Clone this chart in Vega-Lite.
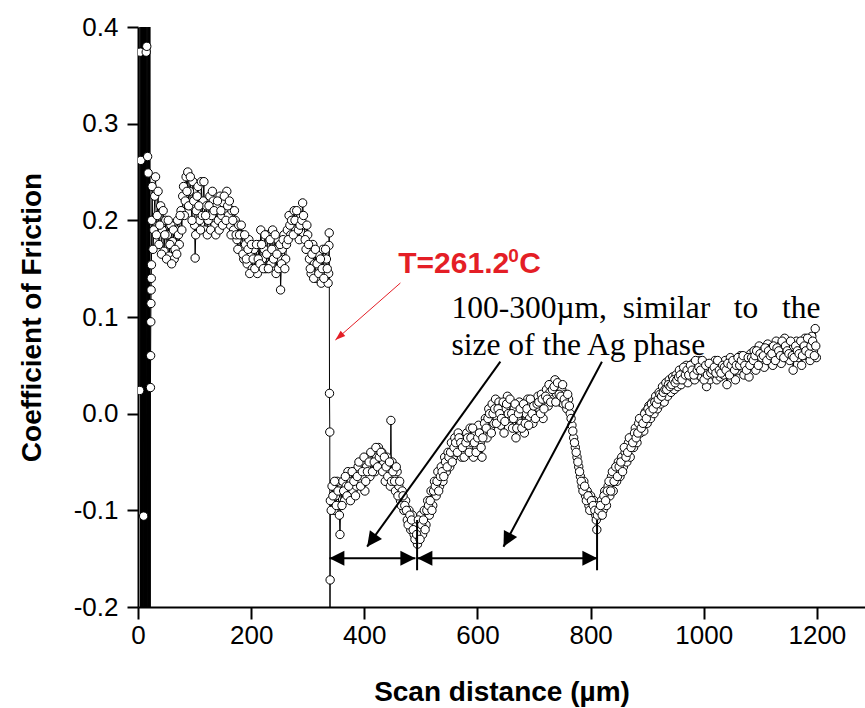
{
  "$schema": "https://vega.github.io/schema/vega-lite/v6.json",
  "autosize": {"type": "none"},
  "width": 727,
  "height": 580,
  "padding": {"left": 138, "top": 27, "right": 0, "bottom": 101},
  "background": "white",
  "config": {"view": {"stroke": null}},
  "datasets": {
    "main": [
      {"x":3,"y":0.024},{"x":3.5,"y":0.6},{"x":4,"y":0.374},{"x":4.5,"y":-0.4},{"x":5,"y":0.262},{"x":5.5,"y":0.6},{"x":6,"y":-0.4},{"x":6.5,"y":0.6},{"x":7,"y":-0.4},{"x":7.5,"y":0.6},{"x":8,"y":-0.4},{"x":8.5,"y":0.6},{"x":9,"y":-0.4},{"x":9.5,"y":0.6},{"x":10,"y":-0.106},{"x":10.5,"y":-0.4},{"x":11,"y":0.6},{"x":11.5,"y":-0.4},{"x":12,"y":0.6},{"x":12.5,"y":-0.4},{"x":13,"y":0.6},{"x":13.5,"y":-0.4},{"x":14,"y":0.6},{"x":14.5,"y":0.374},{"x":15,"y":-0.4},{"x":15.5,"y":0.38},{"x":16,"y":0.6},{"x":16.5,"y":-0.4},{"x":17,"y":0.266},{"x":17.5,"y":0.6},{"x":18,"y":0.249},{"x":18.5,"y":-0.4},{"x":19,"y":0.6},{"x":19.5,"y":-0.4},{"x":20,"y":0.6},{"x":20.5,"y":-0.4},{"x":21,"y":0.6},{"x":21.5,"y":-0.4},{"x":22,"y":0.027},{"x":22.3,"y":0.06},{"x":22.6,"y":0.095},{"x":22.9,"y":0.114},{"x":23.2,"y":0.128},{"x":23.5,"y":0.14},{"x":23.8,"y":0.154},{"x":24.2,"y":0.2},
      {"x":25,"y":0.235},{"x":28,"y":0.19},{"x":31,"y":0.245},{"x":34,"y":0.205},{"x":37,"y":0.175},{"x":40,"y":0.215},{"x":43,"y":0.19},{"x":46,"y":0.168},{"x":49,"y":0.2},{"x":52,"y":0.185},{"x":55,"y":0.163},{"x":58,"y":0.195},{"x":61,"y":0.178},{"x":64,"y":0.16},{"x":67,"y":0.19},{"x":70,"y":0.2},{"x":73,"y":0.175},{"x":76,"y":0.21},{"x":79,"y":0.225},{"x":82,"y":0.205},{"x":85,"y":0.245},{"x":88,"y":0.25},{"x":91,"y":0.23},{"x":94,"y":0.215},{"x":97,"y":0.24},{"x":100,"y":0.195},{"x":101,"y":0.161},{"x":103,"y":0.21},{"x":106,"y":0.235},{"x":109,"y":0.2},{"x":112,"y":0.24},{"x":115,"y":0.22},{"x":118,"y":0.19},{"x":121,"y":0.215},{"x":124,"y":0.2},{"x":127,"y":0.225},{"x":130,"y":0.205},{"x":133,"y":0.22},{"x":136,"y":0.195},{"x":139,"y":0.215},{"x":142,"y":0.2},{"x":145,"y":0.225},{"x":148,"y":0.205},{"x":151,"y":0.218},{"x":154,"y":0.21},{"x":157,"y":0.23},{"x":160,"y":0.205},{"x":163,"y":0.195},{"x":166,"y":0.21},{"x":169,"y":0.19},{"x":172,"y":0.2},{"x":175,"y":0.18},{"x":178,"y":0.195},{"x":181,"y":0.17},{"x":184,"y":0.185},{"x":187,"y":0.16},{"x":190,"y":0.175},{"x":193,"y":0.155},{"x":196,"y":0.18},{"x":199,"y":0.165},{"x":202,"y":0.15},{"x":205,"y":0.17},{"x":208,"y":0.16},{"x":211,"y":0.145},{"x":214,"y":0.175},{"x":217,"y":0.19},{"x":220,"y":0.16},{"x":223,"y":0.17},{"x":226,"y":0.15},{"x":229,"y":0.185},{"x":232,"y":0.165},{"x":235,"y":0.155},{"x":238,"y":0.19},{"x":241,"y":0.17},{"x":244,"y":0.145},{"x":247,"y":0.18},{"x":250,"y":0.16},{"x":252,"y":0.128},{"x":255,"y":0.17},{"x":258,"y":0.185},{"x":261,"y":0.16},{"x":264,"y":0.19},{"x":267,"y":0.205},{"x":270,"y":0.185},{"x":273,"y":0.2},{"x":276,"y":0.21},{"x":279,"y":0.19},{"x":282,"y":0.2},{"x":285,"y":0.18},{"x":288,"y":0.205},{"x":291,"y":0.218},{"x":294,"y":0.195},{"x":297,"y":0.17},{"x":300,"y":0.185},{"x":303,"y":0.16},{"x":306,"y":0.145},{"x":309,"y":0.175},{"x":312,"y":0.155},{"x":315,"y":0.14},{"x":318,"y":0.165},{"x":321,"y":0.15},{"x":324,"y":0.135},{"x":327,"y":0.17},{"x":330,"y":0.145},{"x":333,"y":0.16},{"x":336,"y":0.135},{"x":337,"y":0.145},{"x":337.5,"y":0.174},{"x":338,"y":0.187},{"x":338.5,"y":0.021},{"x":339,"y":-0.019},{"x":339.3,"y":-0.25},{"x":339.6,"y":-0.172},
      {"x":340,"y":-0.09},{"x":343,"y":-0.075},{"x":346,"y":-0.1},{"x":349,"y":-0.085},{"x":352,"y":-0.07},{"x":355,"y":-0.095},{"x":357,"y":-0.125},{"x":359,"y":-0.08},{"x":362,"y":-0.07},{"x":365,"y":-0.09},{"x":368,"y":-0.075},{"x":371,"y":-0.06},{"x":374,"y":-0.085},{"x":377,"y":-0.07},{"x":380,"y":-0.08},{"x":383,"y":-0.06},{"x":386,"y":-0.075},{"x":389,"y":-0.055},{"x":392,"y":-0.07},{"x":395,"y":-0.05},{"x":398,"y":-0.065},{"x":401,"y":-0.08},{"x":404,"y":-0.055},{"x":407,"y":-0.045},{"x":410,"y":-0.065},{"x":413,"y":-0.05},{"x":416,"y":-0.04},{"x":419,"y":-0.06},{"x":422,"y":-0.045},{"x":425,"y":-0.035},{"x":428,"y":-0.055},{"x":431,"y":-0.04},{"x":434,"y":-0.05},{"x":437,"y":-0.07},{"x":440,"y":-0.045},{"x":443,"y":-0.06},{"x":446,"y":-0.075},{"x":447,"y":-0.007},{"x":449,"y":-0.05},{"x":452,"y":-0.065},{"x":455,"y":-0.08},{"x":458,"y":-0.06},{"x":461,"y":-0.075},{"x":464,"y":-0.09},{"x":467,"y":-0.08},{"x":470,"y":-0.1},{"x":473,"y":-0.09},{"x":476,"y":-0.11},{"x":479,"y":-0.1},{"x":482,"y":-0.12},{"x":485,"y":-0.105},{"x":488,"y":-0.125},{"x":491,"y":-0.115},{"x":494,"y":-0.135},{"x":497,"y":-0.12},{"x":500,"y":-0.105},{"x":503,"y":-0.125},{"x":506,"y":-0.1},{"x":509,"y":-0.115},{"x":512,"y":-0.09},{"x":515,"y":-0.105},{"x":518,"y":-0.08},{"x":521,"y":-0.095},{"x":524,"y":-0.07},{"x":527,"y":-0.085},{"x":530,"y":-0.06},{"x":533,"y":-0.075},{"x":536,"y":-0.055},{"x":539,"y":-0.07},{"x":542,"y":-0.045},{"x":545,"y":-0.06},{"x":548,"y":-0.04},{"x":551,"y":-0.055},{"x":554,"y":-0.03},{"x":557,"y":-0.045},{"x":560,"y":-0.025},{"x":563,"y":-0.04},{"x":566,"y":-0.02},{"x":569,"y":-0.035},{"x":572,"y":-0.045},{"x":575,"y":-0.025},{"x":578,"y":-0.04},{"x":581,"y":-0.02},{"x":584,"y":-0.035},{"x":587,"y":-0.015},{"x":590,"y":-0.03},{"x":593,"y":-0.045},{"x":596,"y":-0.02},{"x":599,"y":-0.035},{"x":602,"y":-0.012},{"x":605,"y":-0.03},{"x":608,"y":-0.045},{"x":611,"y":-0.02},{"x":614,"y":-0.005},{"x":617,"y":-0.025},{"x":620,"y":0.005},{"x":623,"y":-0.015},{"x":626,"y":0.01},{"x":629,"y":-0.01},{"x":632,"y":0.015},{"x":635,"y":-0.005},{"x":638,"y":0.012},{"x":641,"y":-0.012},{"x":644,"y":0.008},{"x":647,"y":-0.02},{"x":650,"y":0.005},{"x":653,"y":0.018},{"x":656,"y":-0.005},{"x":659,"y":0.01},{"x":662,"y":-0.015},{"x":665,"y":0.005},{"x":668,"y":-0.025},{"x":671,"y":-0.005},{"x":674,"y":0.012},{"x":677,"y":-0.01},{"x":680,"y":0.005},{"x":683,"y":-0.02},{"x":686,"y":0.0},{"x":689,"y":0.015},{"x":692,"y":-0.005},{"x":695,"y":0.01},{"x":698,"y":-0.01},{"x":701,"y":0.012},{"x":704,"y":0.0},{"x":707,"y":0.018},{"x":710,"y":0.005},{"x":713,"y":0.02},{"x":716,"y":-0.005},{"x":719,"y":0.012},{"x":722,"y":0.025},{"x":725,"y":0.008},{"x":728,"y":0.022},{"x":731,"y":0.03},{"x":734,"y":0.015},{"x":737,"y":0.035},{"x":740,"y":0.02},{"x":743,"y":0.028},{"x":746,"y":0.012},{"x":749,"y":0.025},{"x":752,"y":0.01},{"x":755,"y":0.02},{"x":758,"y":0.005},{"x":761,"y":0.015},{"x":764,"y":0.0},{"x":767,"y":-0.012},{"x":770,"y":-0.025},{"x":773,"y":-0.035},{"x":776,"y":-0.045},{"x":779,"y":-0.055},{"x":782,"y":-0.065},{"x":785,"y":-0.075},{"x":788,"y":-0.07},{"x":791,"y":-0.085},{"x":794,"y":-0.08},{"x":797,"y":-0.095},{"x":800,"y":-0.085},{"x":803,"y":-0.1},{"x":806,"y":-0.09},{"x":809,"y":-0.105},{"x":811,"y":-0.12},{"x":813,"y":-0.095},{"x":816,"y":-0.105},{"x":819,"y":-0.09},{"x":822,"y":-0.1},{"x":825,"y":-0.08},{"x":828,"y":-0.095},{"x":831,"y":-0.075},{"x":834,"y":-0.085},{"x":837,"y":-0.065},{"x":840,"y":-0.08},{"x":843,"y":-0.06},{"x":846,"y":-0.07},{"x":849,"y":-0.05},{"x":852,"y":-0.065},{"x":855,"y":-0.045},{"x":858,"y":-0.055},{"x":861,"y":-0.04},{"x":864,"y":-0.05},{"x":867,"y":-0.03},{"x":870,"y":-0.045},{"x":873,"y":-0.025},{"x":876,"y":-0.035},{"x":879,"y":-0.015},{"x":882,"y":-0.03},{"x":885,"y":-0.01},{"x":888,"y":-0.02},{"x":891,"y":-0.005},{"x":894,"y":-0.018},{"x":897,"y":0.002},{"x":900,"y":-0.01},{"x":903,"y":0.008},{"x":906,"y":-0.005},{"x":909,"y":0.012},{"x":912,"y":0.0},{"x":915,"y":0.018},{"x":918,"y":0.005},{"x":921,"y":0.022},{"x":924,"y":0.01},{"x":927,"y":0.028},{"x":930,"y":0.012},{"x":933,"y":0.032},{"x":936,"y":0.018},{"x":939,"y":0.035},{"x":942,"y":0.022},{"x":945,"y":0.038},{"x":948,"y":0.025},{"x":951,"y":0.04},{"x":954,"y":0.028},{"x":957,"y":0.045},{"x":960,"y":0.03},{"x":963,"y":0.042},{"x":966,"y":0.035},{"x":969,"y":0.05},{"x":972,"y":0.032},{"x":975,"y":0.045},{"x":978,"y":0.038},{"x":981,"y":0.052},{"x":984,"y":0.035},{"x":987,"y":0.048},{"x":990,"y":0.04},{"x":993,"y":0.055},{"x":996,"y":0.038},{"x":999,"y":0.05},{"x":1002,"y":0.042},{"x":1005,"y":0.028},{"x":1008,"y":0.045},{"x":1011,"y":0.035},{"x":1014,"y":0.05},{"x":1017,"y":0.04},{"x":1020,"y":0.055},{"x":1023,"y":0.035},{"x":1026,"y":0.048},{"x":1029,"y":0.038},{"x":1032,"y":0.052},{"x":1035,"y":0.04},{"x":1038,"y":0.055},{"x":1041,"y":0.03},{"x":1044,"y":0.045},{"x":1047,"y":0.058},{"x":1050,"y":0.042},{"x":1053,"y":0.05},{"x":1056,"y":0.035},{"x":1059,"y":0.055},{"x":1062,"y":0.045},{"x":1065,"y":0.06},{"x":1068,"y":0.048},{"x":1071,"y":0.04},{"x":1074,"y":0.058},{"x":1077,"y":0.05},{"x":1080,"y":0.038},{"x":1083,"y":0.062},{"x":1086,"y":0.05},{"x":1089,"y":0.065},{"x":1092,"y":0.045},{"x":1095,"y":0.058},{"x":1098,"y":0.07},{"x":1101,"y":0.052},{"x":1104,"y":0.065},{"x":1107,"y":0.048},{"x":1110,"y":0.06},{"x":1113,"y":0.072},{"x":1116,"y":0.055},{"x":1119,"y":0.068},{"x":1122,"y":0.05},{"x":1125,"y":0.062},{"x":1128,"y":0.075},{"x":1131,"y":0.058},{"x":1134,"y":0.07},{"x":1137,"y":0.052},{"x":1140,"y":0.065},{"x":1143,"y":0.078},{"x":1146,"y":0.06},{"x":1149,"y":0.072},{"x":1152,"y":0.055},{"x":1155,"y":0.068},{"x":1158,"y":0.045},{"x":1161,"y":0.062},{"x":1164,"y":0.075},{"x":1167,"y":0.058},{"x":1170,"y":0.07},{"x":1173,"y":0.05},{"x":1176,"y":0.065},{"x":1179,"y":0.078},{"x":1182,"y":0.06},{"x":1185,"y":0.072},{"x":1188,"y":0.055},{"x":1191,"y":0.08},{"x":1194,"y":0.065},{"x":1197,"y":0.088},{"x":1199,"y":0.058},
      {"x":26.5,"y":0.17},{"x":29.5,"y":0.225},{"x":32.5,"y":0.185},{"x":35.5,"y":0.23},{"x":38.5,"y":0.195},{"x":41.5,"y":0.165},{"x":44.5,"y":0.21},{"x":47.5,"y":0.185},{"x":50.5,"y":0.16},{"x":53.5,"y":0.2},{"x":56.5,"y":0.175},{"x":59.5,"y":0.155},{"x":62.5,"y":0.19},{"x":65.5,"y":0.17},{"x":68.5,"y":0.165},{"x":71.5,"y":0.185},{"x":74.5,"y":0.205},{"x":77.5,"y":0.19},{"x":80.5,"y":0.235},{"x":83.5,"y":0.22},{"x":86.5,"y":0.23},{"x":89.5,"y":0.215},{"x":92.5,"y":0.245},{"x":95.5,"y":0.2},{"x":98.5,"y":0.22},{"x":102,"y":0.185},{"x":104.5,"y":0.225},{"x":107.5,"y":0.215},{"x":110.5,"y":0.19},{"x":113.5,"y":0.205},{"x":116.5,"y":0.24},{"x":119.5,"y":0.205},{"x":122.5,"y":0.185},{"x":125.5,"y":0.215},{"x":128.5,"y":0.19},{"x":131.5,"y":0.23},{"x":134.5,"y":0.21},{"x":137.5,"y":0.185},{"x":140.5,"y":0.22},{"x":143.5,"y":0.19},{"x":146.5,"y":0.21},{"x":149.5,"y":0.195},{"x":152.5,"y":0.225},{"x":155.5,"y":0.2},{"x":158.5,"y":0.215},{"x":161.5,"y":0.22},{"x":164.5,"y":0.185},{"x":167.5,"y":0.2},{"x":170.5,"y":0.21},{"x":173.5,"y":0.185},{"x":176.5,"y":0.17},{"x":179.5,"y":0.185},{"x":182.5,"y":0.195},{"x":185.5,"y":0.165},{"x":188.5,"y":0.185},{"x":191.5,"y":0.16},{"x":194.5,"y":0.17},{"x":197.5,"y":0.145},{"x":200.5,"y":0.175},{"x":203.5,"y":0.16},{"x":206.5,"y":0.15},{"x":209.5,"y":0.175},{"x":212.5,"y":0.16},{"x":215.5,"y":0.155},{"x":218.5,"y":0.175},{"x":221.5,"y":0.15},{"x":224.5,"y":0.185},{"x":227.5,"y":0.165},{"x":230.5,"y":0.15},{"x":233.5,"y":0.18},{"x":236.5,"y":0.17},{"x":239.5,"y":0.16},{"x":242.5,"y":0.185},{"x":245.5,"y":0.165},{"x":248.5,"y":0.15},{"x":251,"y":0.175},{"x":253.5,"y":0.155},{"x":256.5,"y":0.18},{"x":259.5,"y":0.15},{"x":262.5,"y":0.175},{"x":265.5,"y":0.18},{"x":268.5,"y":0.195},{"x":271.5,"y":0.2},{"x":274.5,"y":0.185},{"x":277.5,"y":0.2},{"x":280.5,"y":0.21},{"x":283.5,"y":0.19},{"x":286.5,"y":0.195},{"x":289.5,"y":0.2},{"x":292.5,"y":0.205},{"x":295.5,"y":0.18},{"x":298.5,"y":0.195},{"x":301.5,"y":0.175},{"x":304.5,"y":0.15},{"x":307.5,"y":0.165},{"x":310.5,"y":0.14},{"x":313.5,"y":0.17},{"x":316.5,"y":0.155},{"x":319.5,"y":0.145},{"x":322.5,"y":0.16},{"x":325.5,"y":0.15},{"x":328.5,"y":0.14},{"x":331.5,"y":0.17},{"x":334.5,"y":0.15},
      {"x":341.5,"y":-0.1},{"x":344.5,"y":-0.085},{"x":347.5,"y":-0.07},{"x":350.5,"y":-0.095},{"x":353.5,"y":-0.08},{"x":356,"y":-0.105},{"x":360.5,"y":-0.095},{"x":363.5,"y":-0.08},{"x":366.5,"y":-0.065},{"x":369.5,"y":-0.085},{"x":372.5,"y":-0.075},{"x":375.5,"y":-0.09},{"x":378.5,"y":-0.06},{"x":381.5,"y":-0.07},{"x":384.5,"y":-0.085},{"x":387.5,"y":-0.065},{"x":390.5,"y":-0.05},{"x":393.5,"y":-0.075},{"x":396.5,"y":-0.06},{"x":399.5,"y":-0.045},{"x":402.5,"y":-0.07},{"x":405.5,"y":-0.06},{"x":408.5,"y":-0.05},{"x":411.5,"y":-0.04},{"x":414.5,"y":-0.06},{"x":417.5,"y":-0.05},{"x":420.5,"y":-0.035},{"x":423.5,"y":-0.055},{"x":426.5,"y":-0.045},{"x":429.5,"y":-0.04},{"x":432.5,"y":-0.06},{"x":435.5,"y":-0.045},{"x":438.5,"y":-0.055},{"x":441.5,"y":-0.065},{"x":444.5,"y":-0.05},{"x":448,"y":-0.07},{"x":450.5,"y":-0.06},{"x":453.5,"y":-0.07},{"x":456.5,"y":-0.055},{"x":459.5,"y":-0.085},{"x":462.5,"y":-0.07},{"x":465.5,"y":-0.095},{"x":468.5,"y":-0.085},{"x":471.5,"y":-0.095},{"x":474.5,"y":-0.1},{"x":477.5,"y":-0.115},{"x":480.5,"y":-0.105},{"x":483.5,"y":-0.11},{"x":486.5,"y":-0.12},{"x":489.5,"y":-0.13},{"x":492.5,"y":-0.125},{"x":495.5,"y":-0.11},{"x":498.5,"y":-0.13},{"x":501.5,"y":-0.115},{"x":504.5,"y":-0.11},{"x":507.5,"y":-0.12},{"x":510.5,"y":-0.1},{"x":513.5,"y":-0.095},{"x":516.5,"y":-0.09},{"x":519.5,"y":-0.1},{"x":522.5,"y":-0.08},{"x":525.5,"y":-0.075},{"x":528.5,"y":-0.07},{"x":531.5,"y":-0.08},{"x":534.5,"y":-0.065},{"x":537.5,"y":-0.06},{"x":540.5,"y":-0.065},{"x":543.5,"y":-0.05},{"x":546.5,"y":-0.055},{"x":549.5,"y":-0.045},{"x":552.5,"y":-0.04},{"x":555.5,"y":-0.05},{"x":558.5,"y":-0.035},{"x":561.5,"y":-0.03},{"x":564.5,"y":-0.04},{"x":567.5,"y":-0.025},{"x":570.5,"y":-0.03},{"x":573.5,"y":-0.035},{"x":576.5,"y":-0.045},{"x":579.5,"y":-0.03},{"x":582.5,"y":-0.025},{"x":585.5,"y":-0.04},{"x":588.5,"y":-0.025},{"x":591.5,"y":-0.015},{"x":594.5,"y":-0.03},{"x":597.5,"y":-0.04},{"x":600.5,"y":-0.025},{"x":603.5,"y":-0.02},{"x":606.5,"y":-0.035},{"x":609.5,"y":-0.025},{"x":612.5,"y":-0.01},{"x":615.5,"y":-0.015},{"x":618.5,"y":-0.005},{"x":621.5,"y":0.0},{"x":624.5,"y":-0.02},{"x":627.5,"y":0.0},{"x":630.5,"y":0.005},{"x":633.5,"y":-0.01},{"x":636.5,"y":0.005},{"x":639.5,"y":0.0},{"x":642.5,"y":-0.005},{"x":645.5,"y":0.012},{"x":648.5,"y":-0.008},{"x":651.5,"y":0.01},{"x":654.5,"y":0.0},{"x":657.5,"y":0.015},{"x":660.5,"y":0.0},{"x":663.5,"y":-0.005},{"x":666.5,"y":0.01},{"x":669.5,"y":-0.015},{"x":672.5,"y":0.0},{"x":675.5,"y":0.005},{"x":678.5,"y":-0.015},{"x":681.5,"y":0.01},{"x":684.5,"y":-0.01},{"x":687.5,"y":0.005},{"x":690.5,"y":-0.012},{"x":693.5,"y":0.015},{"x":696.5,"y":0.0},{"x":699.5,"y":0.008},{"x":702.5,"y":-0.005},{"x":705.5,"y":0.01},{"x":708.5,"y":0.012},{"x":711.5,"y":0.0},{"x":714.5,"y":0.015},{"x":717.5,"y":0.005},{"x":720.5,"y":0.018},{"x":723.5,"y":0.015},{"x":726.5,"y":0.03},{"x":729.5,"y":0.012},{"x":732.5,"y":0.025},{"x":735.5,"y":0.028},{"x":738.5,"y":0.012},{"x":741.5,"y":0.032},{"x":744.5,"y":0.02},{"x":747.5,"y":0.018},{"x":750.5,"y":0.03},{"x":753.5,"y":0.015},{"x":756.5,"y":0.01},{"x":759.5,"y":0.02},{"x":762.5,"y":0.008},{"x":765.5,"y":-0.005},{"x":768.5,"y":-0.018},{"x":771.5,"y":-0.03},{"x":774.5,"y":-0.04},{"x":777.5,"y":-0.05},{"x":780.5,"y":-0.06},{"x":783.5,"y":-0.07},{"x":786.5,"y":-0.08},{"x":789.5,"y":-0.075},{"x":792.5,"y":-0.09},{"x":795.5,"y":-0.085},{"x":798.5,"y":-0.1},{"x":801.5,"y":-0.09},{"x":804.5,"y":-0.095},{"x":807.5,"y":-0.1},{"x":810,"y":-0.11},{"x":812,"y":-0.105},{"x":814.5,"y":-0.1},{"x":817.5,"y":-0.095},{"x":820.5,"y":-0.105},{"x":823.5,"y":-0.085},{"x":826.5,"y":-0.09},{"x":829.5,"y":-0.08},{"x":832.5,"y":-0.07},{"x":835.5,"y":-0.08},{"x":838.5,"y":-0.06},{"x":841.5,"y":-0.07},{"x":844.5,"y":-0.055},{"x":847.5,"y":-0.065},{"x":850.5,"y":-0.055},{"x":853.5,"y":-0.05},{"x":856.5,"y":-0.06},{"x":859.5,"y":-0.035},{"x":862.5,"y":-0.045},{"x":865.5,"y":-0.04},{"x":868.5,"y":-0.025},{"x":871.5,"y":-0.035},{"x":874.5,"y":-0.03},{"x":877.5,"y":-0.02},{"x":880.5,"y":-0.025},{"x":883.5,"y":-0.02},{"x":886.5,"y":-0.005},{"x":889.5,"y":-0.015},{"x":892.5,"y":-0.01},{"x":895.5,"y":0.0},{"x":898.5,"y":-0.005},{"x":901.5,"y":0.005},{"x":904.5,"y":0.002},{"x":907.5,"y":0.01},{"x":910.5,"y":0.005},{"x":913.5,"y":0.012},{"x":916.5,"y":0.01},{"x":919.5,"y":0.015},{"x":922.5,"y":0.02},{"x":925.5,"y":0.018},{"x":928.5,"y":0.022},{"x":931.5,"y":0.025},{"x":934.5,"y":0.025},{"x":937.5,"y":0.03},{"x":940.5,"y":0.028},{"x":943.5,"y":0.03},{"x":946.5,"y":0.035},{"x":949.5,"y":0.032},{"x":952.5,"y":0.035},{"x":955.5,"y":0.038},{"x":958.5,"y":0.04},{"x":961.5,"y":0.035},{"x":964.5,"y":0.048},{"x":967.5,"y":0.04},{"x":970.5,"y":0.045},{"x":973.5,"y":0.04},{"x":976.5,"y":0.05},{"x":979.5,"y":0.045},{"x":982.5,"y":0.04},{"x":985.5,"y":0.055},{"x":988.5,"y":0.045},{"x":991.5,"y":0.048},{"x":994.5,"y":0.045},{"x":997.5,"y":0.055},{"x":1000.5,"y":0.035},{"x":1003.5,"y":0.05},{"x":1006.5,"y":0.04},{"x":1009.5,"y":0.052},{"x":1012.5,"y":0.042},{"x":1015.5,"y":0.045},{"x":1018.5,"y":0.048},{"x":1021.5,"y":0.042},{"x":1024.5,"y":0.055},{"x":1027.5,"y":0.045},{"x":1030.5,"y":0.042},{"x":1033.5,"y":0.05},{"x":1036.5,"y":0.048},{"x":1039.5,"y":0.045},{"x":1042.5,"y":0.052},{"x":1045.5,"y":0.04},{"x":1048.5,"y":0.05},{"x":1051.5,"y":0.055},{"x":1054.5,"y":0.045},{"x":1057.5,"y":0.05},{"x":1060.5,"y":0.058},{"x":1063.5,"y":0.05},{"x":1066.5,"y":0.055},{"x":1069.5,"y":0.06},{"x":1072.5,"y":0.05},{"x":1075.5,"y":0.045},{"x":1078.5,"y":0.058},{"x":1081.5,"y":0.05},{"x":1084.5,"y":0.058},{"x":1087.5,"y":0.055},{"x":1090.5,"y":0.06},{"x":1093.5,"y":0.065},{"x":1096.5,"y":0.05},{"x":1099.5,"y":0.062},{"x":1102.5,"y":0.058},{"x":1105.5,"y":0.06},{"x":1108.5,"y":0.068},{"x":1111.5,"y":0.055},{"x":1114.5,"y":0.065},{"x":1117.5,"y":0.06},{"x":1120.5,"y":0.062},{"x":1123.5,"y":0.07},{"x":1126.5,"y":0.055},{"x":1129.5,"y":0.068},{"x":1132.5,"y":0.065},{"x":1135.5,"y":0.06},{"x":1138.5,"y":0.075},{"x":1141.5,"y":0.058},{"x":1144.5,"y":0.07},{"x":1147.5,"y":0.065},{"x":1150.5,"y":0.062},{"x":1153.5,"y":0.075},{"x":1156.5,"y":0.06},{"x":1159.5,"y":0.058},{"x":1162.5,"y":0.07},{"x":1165.5,"y":0.065},{"x":1168.5,"y":0.062},{"x":1171.5,"y":0.075},{"x":1174.5,"y":0.06},{"x":1177.5,"y":0.07},{"x":1180.5,"y":0.065},{"x":1183.5,"y":0.078},{"x":1186.5,"y":0.062},{"x":1189.5,"y":0.07},{"x":1192.5,"y":0.075},{"x":1195.5,"y":0.06},{"x":1198,"y":0.07}
    ],
    "blackLines": [
      {"x":338.3,"y":-0.1496,"x2":490.3,"y2":-0.1496},
      {"x":493.8,"y":-0.1496,"x2":812,"y2":-0.1496},
      {"x":493.3,"y":-0.11,"x2":493.3,"y2":-0.162},
      {"x":811.4,"y":-0.11,"x2":811.4,"y2":-0.162},
      {"x":640.5,"y":0.0538,"x2":405,"y2":-0.1376},
      {"x":820,"y":0.0538,"x2":646,"y2":-0.1376}
    ]
  },
  "encoding": {
    "x": {"field": "x", "type": "quantitative", "scale": {"domain": [0, 1285], "nice": false, "zero": false},
      "axis": {"title": "Scan distance (µm)", "values": [0,200,400,600,800,1000,1200], "format": "d", "grid": false,
        "domainColor": "black", "domainWidth": 2, "tickColor": "black", "tickWidth": 2, "tickSize": 12,
        "labelFont": "Liberation Sans", "labelFontSize": 26, "labelColor": "black", "labelPadding": 3, "labelFlush": false,
        "titleFont": "Liberation Sans", "titleFontSize": 28, "titleFontWeight": "bold", "titleColor": "black", "titlePadding": 30}},
    "y": {"field": "y", "type": "quantitative", "scale": {"domain": [-0.2, 0.4], "nice": false, "zero": false},
      "axis": {"title": "Coefficient of Friction", "values": [-0.2,-0.1,0,0.1,0.2,0.3,0.4], "grid": false,
        "labelExpr": "replace(format(datum.value, '.1f'), '\u2212', '-')",
        "domainColor": "black", "domainWidth": 2, "tickColor": "black", "tickWidth": 2, "tickSize": 11,
        "labelFont": "Liberation Sans", "labelFontSize": 26, "labelColor": "black", "labelPadding": 9, "labelFlush": false,
        "titleFont": "Liberation Sans", "titleFontSize": 28, "titleFontWeight": "bold", "titleColor": "black", "titlePadding": 27}}
  },
  "layer": [
    {"data": {"name": "main"}, "mark": {"type": "line", "color": "black", "strokeWidth": 1, "clip": true}},
    {"data": {"name": "main"}, "mark": {"type": "point", "shape": "circle", "filled": true, "fill": "white", "stroke": "black", "strokeWidth": 1, "size": 70, "opacity": 1, "clip": true}},
    {"data": {"name": "blackLines"}, "mark": {"type": "rule", "color": "black", "strokeWidth": 2},
      "encoding": {"x2": {"field": "x2"}, "y2": {"field": "y2"}}},
    {"data": {"values": [{"x":463.8,"y":0.1352,"x2":348.9,"y2":0.0762}]}, "mark": {"type": "rule", "color": "#e41e26", "strokeWidth": 1},
      "encoding": {"x2": {"field": "x2"}, "y2": {"field": "y2"}}},
    {"data": {"values": [{"x":348.9,"y":0.0762}]}, "mark": {"type": "point", "shape": "M0,0L-0.35,1L0.35,1Z", "filled": true, "color": "#e41e26", "size": 400, "opacity": 1, "angle": 229}},
    {"data": {"values": [{"x":338.3,"y":-0.1496},{"x":493.8,"y":-0.1496}]}, "mark": {"type": "point", "shape": "M0,0L-0.5,1L0.5,1Z", "filled": true, "color": "black", "size": 900, "opacity": 1, "angle": 270}},
    {"data": {"values": [{"x":490.3,"y":-0.1496},{"x":812,"y":-0.1496}]}, "mark": {"type": "point", "shape": "M0,0L-0.5,1L0.5,1Z", "filled": true, "color": "black", "size": 900, "opacity": 1, "angle": 90}},
    {"data": {"values": [{"x":405,"y":-0.1376}]}, "mark": {"type": "point", "shape": "M0,0L-0.5,1L0.5,1Z", "filled": true, "color": "black", "size": 900, "opacity": 1, "angle": 216}},
    {"data": {"values": [{"x":646,"y":-0.1376}]}, "mark": {"type": "point", "shape": "M0,0L-0.5,1L0.5,1Z", "filled": true, "color": "black", "size": 900, "opacity": 1, "angle": 208}},
    {"data": {"values": [{"x":460,"y":0.1457,"t":"T=261.2"},{"x":674,"y":0.1457,"t":"C"}]}, "mark": {"type": "text", "align": "left", "baseline": "alphabetic", "font": "Liberation Sans", "fontWeight": "bold", "fontSize": 30, "color": "#e41e26"},
      "encoding": {"text": {"field": "t"}}},
    {"data": {"values": [{"x":654.6,"y":0.157,"t":"0"}]}, "mark": {"type": "text", "align": "left", "baseline": "alphabetic", "font": "Liberation Sans", "fontWeight": "bold", "fontSize": 19, "color": "#e41e26"},
      "encoding": {"text": {"field": "t"}}},
    {"data": {"values": [{"x":554,"y":0.099,"t":"100-300µm,\u00a0 similar\u00a0\u00a0 to\u00a0\u00a0 the"},{"x":554,"y":0.061,"t":"size of the Ag phase"}]}, "mark": {"type": "text", "align": "left", "baseline": "alphabetic", "font": "Liberation Serif", "fontSize": 31.5, "color": "black"},
      "encoding": {"text": {"field": "t"}}}
  ]
}
